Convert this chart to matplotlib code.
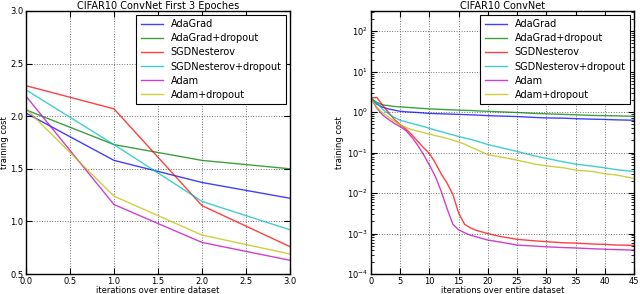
import matplotlib
matplotlib.use("Agg")
import matplotlib.pyplot as plt
import numpy as np

# ---- Left panel data (first 3 epochs) ----
epochs = [0, 1, 2, 3]
left_adagrad = [2.03, 1.58, 1.37, 1.22]
left_adagrad_do = [2.06, 1.73, 1.58, 1.50]
left_sgdn = [2.29, 2.07, 1.15, 0.76]
left_sgdn_do = [2.25, 1.73, 1.19, 0.92]
left_adam = [2.19, 1.16, 0.80, 0.63]
left_adam_do = [2.07, 1.24, 0.87, 0.69]

# ---- Right panel data (45 epochs, log scale) ----
iters = [0, 1, 2, 3, 4, 5, 6, 7, 8, 9, 10, 11, 12, 13, 14, 15, 16, 17, 18,
         20, 22, 25, 28, 30, 33, 35, 38, 40, 42, 45]
r_adagrad = [2.19, 1.58, 1.32, 1.20, 1.12, 1.05, 1.02, 1.00, 0.98, 0.955, 0.93,
             0.92, 0.91, 0.90, 0.89, 0.88, 0.87, 0.86, 0.85, 0.82, 0.80, 0.78,
             0.74, 0.72, 0.71, 0.69, 0.67, 0.66, 0.645, 0.63]
r_adagrad_do = [2.19, 1.74, 1.51, 1.45, 1.38, 1.35, 1.32, 1.29, 1.26, 1.23, 1.20,
                1.19, 1.17, 1.15, 1.14, 1.12, 1.11, 1.10, 1.08, 1.05, 1.02, 0.98,
                0.93, 0.91, 0.88, 0.86, 0.83, 0.82, 0.81, 0.79]
r_sgdn = [2.25, 2.29, 1.48, 0.98, 0.66, 0.49, 0.38, 0.275, 0.19, 0.132, 0.095,
          0.056, 0.030, 0.0178, 0.0093, 0.0032, 0.0017, 0.00138, 0.0012, 0.0010,
          0.00085, 0.00072, 0.00066, 0.00063, 0.00059, 0.00058, 0.00055, 0.00054,
          0.00052, 0.00051]
r_sgdn_do = [2.19, 1.66, 1.17, 0.91, 0.74, 0.63, 0.575, 0.525, 0.48, 0.44, 0.40,
             0.36, 0.33, 0.30, 0.275, 0.25, 0.23, 0.214, 0.195, 0.158, 0.135, 0.107,
             0.083, 0.072, 0.059, 0.052, 0.046, 0.042, 0.038, 0.034]
r_adam = [2.19, 1.26, 0.85, 0.66, 0.525, 0.437, 0.347, 0.24, 0.151, 0.089, 0.049,
          0.026, 0.0112, 0.0042, 0.0017, 0.00123, 0.00105, 0.00091, 0.00083, 0.00069,
          0.00062, 0.00052, 0.00049, 0.00047, 0.00045, 0.00044, 0.00042, 0.00041,
          0.00040, 0.00039]
r_adam_do = [2.19, 1.32, 0.955, 0.76, 0.59, 0.48, 0.417, 0.37, 0.34, 0.31, 0.29,
             0.263, 0.245, 0.224, 0.204, 0.182, 0.162, 0.138, 0.12, 0.089, 0.079,
             0.065, 0.052, 0.047, 0.042, 0.037, 0.034, 0.030, 0.028, 0.023]

labels = ["AdaGrad", "AdaGrad+dropout", "SGDNesterov", "SGDNesterov+dropout",
          "Adam", "Adam+dropout"]
colors = ["#0000ff", "#008000", "#ff0000", "#00bfbf", "#bf00bf", "#bfbf00"]

plt.rcParams.update({
    "font.family": "DejaVu Sans",
    "font.size": 6,
    "xtick.direction": "in",
    "ytick.direction": "in",
    "xtick.top": True,
    "ytick.right": True,
    "xtick.major.size": 4,
    "ytick.major.size": 4,
    "ytick.minor.size": 2,
    "axes.linewidth": 1.0,
})

fig = plt.figure(figsize=(6.4, 2.94), dpi=100)
ax1 = fig.add_axes([26/640, 1-274/294, 264/640, 263/294])
ax2 = fig.add_axes([371/640, 1-274/294, 263/640, 263/294])

left_series = [left_adagrad, left_adagrad_do, left_sgdn, left_sgdn_do, left_adam, left_adam_do]
right_series = [r_adagrad, r_adagrad_do, r_sgdn, r_sgdn_do, r_adam, r_adam_do]

for ys, c, lab in zip(left_series, colors, labels):
    ax1.plot(epochs, ys, color=c, lw=1.0, alpha=0.75, label=lab)
for ys, c, lab in zip(right_series, colors, labels):
    ax2.plot(iters, ys, color=c, lw=1.0, alpha=0.75, label=lab)

ax1.set_xlim(0, 3)
ax1.set_ylim(0.5, 3.0)
ax1.set_xticks(np.arange(0, 3.01, 0.5))
ax1.set_yticks(np.arange(0.5, 3.01, 0.5))
ax1.xaxis.set_major_formatter(matplotlib.ticker.FormatStrFormatter("%.1f"))
ax1.yaxis.set_major_formatter(matplotlib.ticker.FormatStrFormatter("%.1f"))
ax1.set_title("CIFAR10 ConvNet First 3 Epoches", fontsize=7, pad=1.5)

ax2.set_yscale("log")
ax2.set_xlim(0, 45)
ax2.set_ylim(1e-4, 10**2.5)
ax2.set_xticks(np.arange(0, 46, 5))
ax2.set_yticks([1e-4, 1e-3, 1e-2, 1e-1, 1e0, 1e1, 1e2])
ax2.set_title("CIFAR10 ConvNet", fontsize=7, pad=1.5)

for ax in (ax1, ax2):
    ax.grid(True, linestyle=":", color="0.45", lw=0.7)
    ax.set_xlabel("iterations over entire dataset", fontsize=6, labelpad=0)
    ax.tick_params(axis="both", which="both", pad=2, labelsize=6)
    leg = ax.legend(loc="upper right", fancybox=False, framealpha=1,
                    edgecolor="black", fontsize=7, handlelength=2.3,
                    borderaxespad=0.4, labelspacing=0.42, borderpad=0.45)
    leg.get_frame().set_linewidth(0.8)

ax1.set_ylabel("training cost", fontsize=6, labelpad=0.5)
ax2.set_ylabel("training cost", fontsize=6, labelpad=2)

fig.savefig("out.png", dpi=100)
